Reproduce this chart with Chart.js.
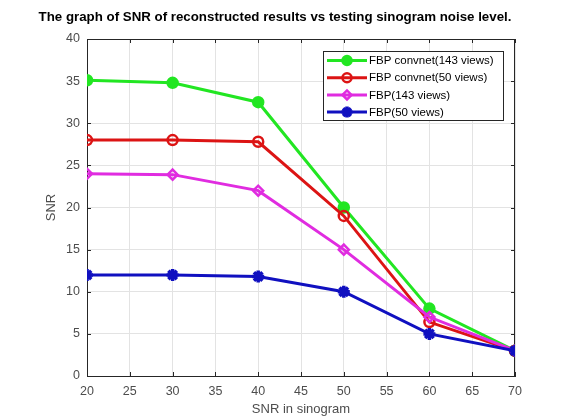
<!DOCTYPE html>
<html>
<head>
<meta charset="utf-8">
<script src="https://cdn.jsdelivr.net/npm/chart.js@4"></script>
<style>
    body { margin: 0; background: #fff; }
    #wrap { width: 574px; height: 418px; }
</style>
</head>
<body>
<div id="wrap"><canvas id="snrChart" width="574" height="418"></canvas></div>
<script>
const snrLevels = [20, 30, 40, 50, 60, 70];
const convnet143 = [35.1, 34.8, 32.5, 20, 8, 3];
const convnet50 = [28, 28, 27.8, 19, 6.4, 3];
const fbp143 = [24, 23.9, 22, 15, 7, 3];
const fbp50 = [12, 12, 11.8, 10, 5, 3];
const seriesNames = ['FBP convnet(143 views)', 'FBP convnet(50 views)', 'FBP(143 views)', 'FBP(50 views)'];
const xTicks = [20, 25, 30, 35, 40, 45, 50, 55, 60, 65, 70];
const yTicks = [0, 5, 10, 15, 20, 25, 30, 35, 40];
const chartTitle = 'The graph of SNR of reconstructed results vs testing sinogram noise level.';

const axisColor = '#262626';
const tickColor = '#4d4d4d';
const fontFamily = '"Liberation Sans", Arial, sans-serif';

function toPoints(values) {
    return snrLevels.map((x, i) => ({ x: x, y: values[i] }));
}

function makeSet(label, values, color, style, filled, order) {
    return {
        label: label,
        data: toPoints(values),
        borderColor: color,
        backgroundColor: color,
        pointBorderColor: color,
        pointBackgroundColor: filled ? color : '#ffffff00',
        pointStyle: style,
        pointRadius: style === 'star' ? 6 : 5,
        pointBorderWidth: style === 'star' ? 3.5 : 2.5,
        borderWidth: 3,
        tension: 0,
        order: order
    };
}

// title drawn by hand so it can sit centred over the whole figure
const figureTitle = {
    id: 'figureTitle',
    afterDraw(chart) {
        const ctx = chart.ctx;
        ctx.save();
        ctx.font = 'bold 13.3px ' + fontFamily;
        ctx.fillStyle = '#000';
        ctx.textAlign = 'center';
        ctx.textBaseline = 'middle';
        ctx.fillText(chartTitle, 275, 17);
        ctx.restore();
    }
};

// legend box drawn inside the plot, matlab style
const insideLegend = {
    id: 'insideLegend',
    afterDatasetsDraw(chart) {
        const ctx = chart.ctx;
        const x0 = 323, y0 = 51, w = 180, h = 69;
        ctx.save();
        ctx.fillStyle = '#ffffff';
        ctx.fillRect(x0, y0, w, h);
        ctx.strokeStyle = axisColor;
        ctx.lineWidth = 1;
        ctx.strokeRect(x0 + 0.5, y0 + 0.5, w, h);
        ctx.font = '11.5px ' + fontFamily;
        ctx.textBaseline = 'middle';
        chart.data.datasets.forEach((ds, i) => {
            const y = y0 + 9.5 + i * 17.2;
            ctx.strokeStyle = ds.borderColor;
            ctx.lineWidth = 3;
            ctx.beginPath();
            ctx.moveTo(x0 + 4, y);
            ctx.lineTo(x0 + 44, y);
            ctx.stroke();
            ctx.fillStyle = ds.pointBackgroundColor;
            ctx.strokeStyle = ds.pointBorderColor;
            ctx.lineWidth = ds.pointBorderWidth;
            Chart.helpers.drawPoint(ctx, {
                pointStyle: ds.pointStyle,
                radius: ds.pointRadius - 0.5,
                borderWidth: ds.pointBorderWidth,
                rotation: 0
            }, x0 + 24, y);
            ctx.fillStyle = '#000';
            ctx.fillText(ds.label, x0 + 46, y + 0.5);
        });
        ctx.restore();
    }
};

// top and right box edges with inward ticks
const boxFrame = {
    id: 'boxFrame',
    beforeDatasetsDraw(chart) {
        const a = chart.chartArea;
        const ctx = chart.ctx;
        const xs = chart.scales.x, ys = chart.scales.y;
        ctx.save();
        ctx.strokeStyle = axisColor;
        ctx.lineWidth = 1;
        ctx.beginPath();
        ctx.moveTo(a.left, a.top + 0.5);
        ctx.lineTo(a.right, a.top + 0.5);
        ctx.moveTo(a.right - 0.5, a.top);
        ctx.lineTo(a.right - 0.5, a.bottom);
        xTicks.forEach(v => {
            const px = Math.round(xs.getPixelForValue(v)) + 0.5;
            ctx.moveTo(px, a.bottom);
            ctx.lineTo(px, a.bottom - 4);
            ctx.moveTo(px, a.top);
            ctx.lineTo(px, a.top + 4);
        });
        yTicks.forEach(v => {
            const py = Math.round(ys.getPixelForValue(v)) + 0.5;
            ctx.moveTo(a.left, py);
            ctx.lineTo(a.left + 4, py);
            ctx.moveTo(a.right, py);
            ctx.lineTo(a.right - 4, py);
        });
        ctx.stroke();
        ctx.restore();
    }
};

new Chart(document.getElementById('snrChart'), {
    type: 'line',
    data: {
        datasets: [
            makeSet(seriesNames[0], convnet143, '#22e622', 'circle', true, 4),
            makeSet(seriesNames[1], convnet50, '#dc1414', 'circle', false, 3),
            makeSet(seriesNames[2], fbp143, '#e02ce0', 'rectRot', false, 2),
            makeSet(seriesNames[3], fbp50, '#1010c0', 'star', true, 1)
        ]
    },
    options: {
        responsive: false,
        animation: false,
        layout: { padding: { left: 0, right: 59, top: 39, bottom: 0 } },
        plugins: {
            legend: { display: false },
            tooltip: { enabled: false },
            title: { display: false }
        },
        scales: {
            x: {
                type: 'linear',
                min: 20,
                max: 70,
                afterBuildTicks: scale => { scale.ticks = xTicks.map(v => ({ value: v })); },
                afterFit: scale => { scale.height = 42; },
                ticks: {
                    color: tickColor,
                    padding: 8,
                    maxRotation: 0,
                    font: { family: fontFamily, size: 12.5 }
                },
                grid: { color: '#e3e3e3', drawTicks: false },
                border: { color: axisColor, width: 1 },
                title: {
                    display: true,
                    text: 'SNR in sinogram',
                    color: tickColor,
                    font: { family: fontFamily, size: 13 },
                    padding: { top: 0, bottom: 1 }
                }
            },
            y: {
                min: 0,
                max: 40,
                afterBuildTicks: scale => { scale.ticks = yTicks.map(v => ({ value: v })); },
                afterFit: scale => { scale.width = 87; },
                ticks: {
                    color: tickColor,
                    padding: 7,
                    font: { family: fontFamily, size: 12.5 }
                },
                grid: { color: '#e3e3e3', drawTicks: false },
                border: { color: axisColor, width: 1 },
                title: {
                    display: true,
                    text: 'SNR',
                    color: tickColor,
                    font: { family: fontFamily, size: 13 },
                    padding: { top: 44, bottom: 0 }
                }
            }
        }
    },
    plugins: [boxFrame, insideLegend, figureTitle]
});
</script>
</body>
</html>
